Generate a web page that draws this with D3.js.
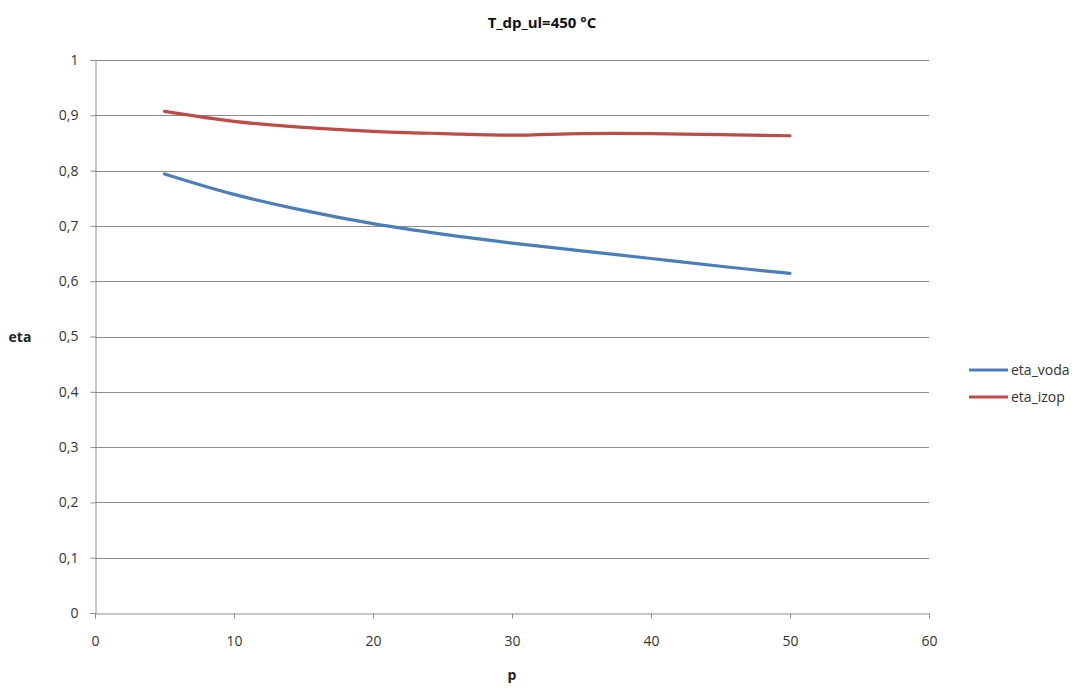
<!DOCTYPE html>
<html>
<head>
<meta charset="utf-8">
<script src="https://cdn.jsdelivr.net/npm/d3@7"></script>
<style>
  html, body { margin: 0; padding: 0; background: #fff; }
  svg { display: block; font-family: "Open Sans", "DejaVu Sans", sans-serif; }
</style>
</head>
<body>
<svg id="chart" width="1092" height="695"></svg>
<script>
const pValues = [5, 10, 15, 20, 25, 30, 35, 40, 45, 50];
const etaVoda = [0.794, 0.757, 0.728, 0.704, 0.685, 0.669, 0.655, 0.641, 0.627, 0.614];
const etaIzop = [0.907, 0.889, 0.878, 0.871, 0.867, 0.864, 0.867, 0.867, 0.865, 0.863];
const seriesNames = ["eta_voda", "eta_izop"];
const seriesColors = ["#4A7EBB", "#BE4B48"];
const xTicks = [0, 10, 20, 30, 40, 50, 60];
const yTicks = [0, 0.1, 0.2, 0.3, 0.4, 0.5, 0.6, 0.7, 0.8, 0.9, 1];
const titleText = "T_dp_ul=450 °C";
const xLabel = "p";
const yLabel = "eta";

const svg = d3.select("#chart");
const x = d3.scaleLinear().domain([0, 60]).range([95, 929]);
const y = d3.scaleLinear().domain([0, 1]).range([613, 60]);

// gridlines
svg.append("g").selectAll("line").data(yTicks.filter(d => d > 0)).join("line")
  .attr("x1", x(0)).attr("x2", x(60))
  .attr("y1", d => Math.round(y(d)) + 0.5).attr("y2", d => Math.round(y(d)) + 0.5)
  .attr("stroke", "#8c8c8c").attr("stroke-width", 1);

// y axis
const yAxis = svg.append("g").attr("transform", `translate(${x(0) + 0.5},0)`)
  .call(d3.axisLeft(y).tickValues(yTicks).tickSize(5).tickPadding(12)
    .tickFormat(d => d === 0 ? "0" : d === 1 ? "1" : d3.format(".1f")(d).replace(".", ",")));
yAxis.select(".domain").attr("stroke", "#8c8c8c");
yAxis.selectAll(".tick line").attr("stroke", "#8c8c8c");
yAxis.selectAll(".tick text").attr("fill", "#333").style("font-size", "14px")
  .attr("font-family", "'Open Sans', sans-serif");

// x axis
const xAxis = svg.append("g").attr("transform", `translate(0,${Math.round(y(0)) + 0.5})`)
  .call(d3.axisBottom(x).tickValues(xTicks).tickSize(5).tickPadding(18).tickFormat(d3.format("d")));
xAxis.select(".domain").attr("stroke", "#8c8c8c");
xAxis.selectAll(".tick line").attr("stroke", "#8c8c8c");
xAxis.selectAll(".tick text").attr("fill", "#333").style("font-size", "14px")
  .attr("font-family", "'Open Sans', sans-serif");

// lines
const series = [etaVoda, etaIzop];
const line = d3.line().x((d, i) => x(pValues[i])).y(d => y(d)).curve(d3.curveCatmullRom.alpha(0.5));
series.forEach((s, k) => {
  svg.append("path").datum(s).attr("d", line)
    .attr("fill", "none").attr("stroke", seriesColors[k]).attr("stroke-width", 3.2)
    .attr("stroke-linecap", "round").attr("stroke-linejoin", "round");
});

// title
svg.append("text").attr("x", 542).attr("y", 28).attr("text-anchor", "middle")
  .style("font-size", "15px").style("font-weight", "bold").attr("fill", "#111").text(titleText);

// axis labels
svg.append("text").attr("x", 512).attr("y", 680).attr("text-anchor", "middle")
  .style("font-size", "14px").style("font-weight", "bold").attr("fill", "#222").text(xLabel);
svg.append("text").attr("x", 20).attr("y", y(0.5) + 5).attr("text-anchor", "middle")
  .style("font-size", "14px").style("font-weight", "bold").attr("fill", "#222").text(yLabel);

// legend
const legend = svg.append("g");
seriesNames.forEach((name, k) => {
  const ly = 370 + k * 27;
  legend.append("line").attr("x1", 969).attr("x2", 1008).attr("y1", ly).attr("y2", ly)
    .attr("stroke", seriesColors[k]).attr("stroke-width", 3);
  legend.append("text").attr("x", 1011).attr("y", ly + 5).style("font-size", "14px")
    .attr("fill", "#333").text(name);
});
</script>
</body>
</html>
